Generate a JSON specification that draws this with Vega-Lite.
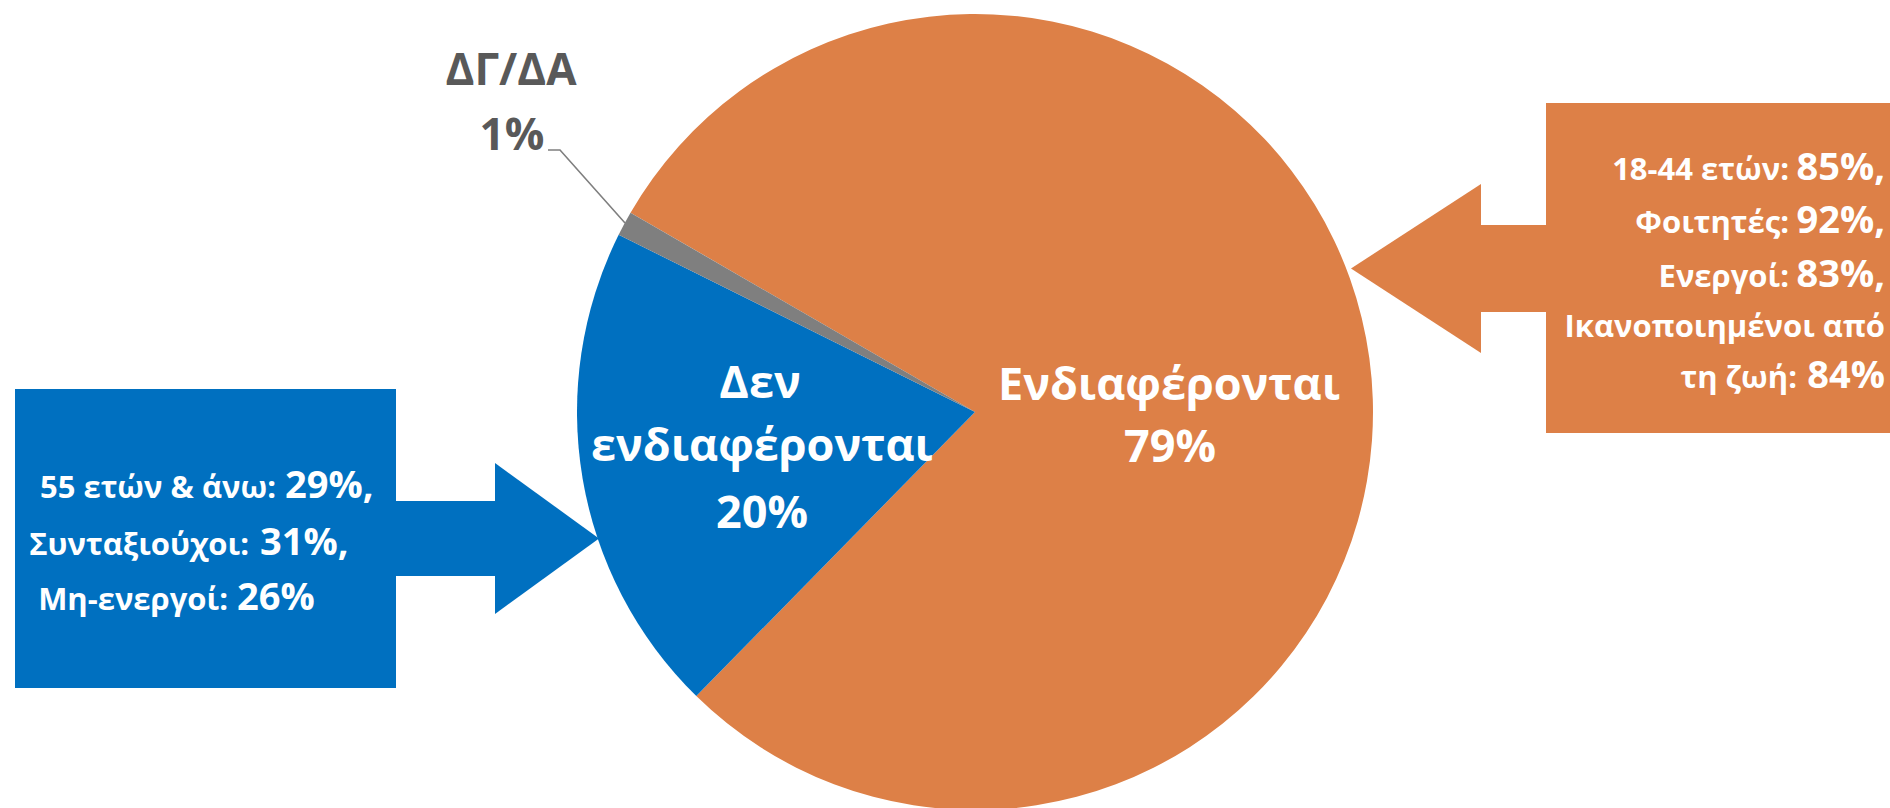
{
  "$schema": "https://vega.github.io/schema/vega-lite/v6.json",
  "width": 1830,
  "height": 792,
  "autosize": "none",
  "padding": {"left": 60, "top": 16, "right": 0, "bottom": 0},
  "background": "#ffffff",
  "config": {"view": {"stroke": null}, "axis": {"disable": true}},
  "layer": [
    {
      "data": {"values": [
        {"label": "Ενδιαφέρονται", "value": 79, "order": 1},
        {"label": "Δεν ενδιαφέρονται", "value": 20, "order": 2},
        {"label": "ΔΓ/ΔΑ", "value": 1, "order": 3}
      ]},
      "mark": {"type": "arc", "outerRadius": 398},
      "encoding": {
        "theta": {"field": "value", "type": "quantitative", "stack": true, "scale": {"range": [5.237, 11.52]}},
        "order": {"field": "order", "type": "quantitative"},
        "color": {"field": "label", "type": "nominal", "legend": null,
          "scale": {"domain": ["Ενδιαφέρονται", "Δεν ενδιαφέρονται", "ΔΓ/ΔΑ"], "range": ["#DD8047", "#0070C0", "#7F7F7F"]}}
      }
    },
    {
      "encoding": {
        "x": {"field": "x", "type": "quantitative", "scale": {"domain": [60, 1890], "nice": false, "zero": false}, "axis": null},
        "y": {"field": "y", "type": "quantitative", "scale": {"domain": [16, 808], "reverse": true, "nice": false, "zero": false}, "axis": null}
      },
      "layer": [
        {
          "data": {"values": [
            {"group": "Δεν ενδιαφέρονται", "part": "box", "x": 15, "x2": 396, "y": 389, "y2": 688},
            {"group": "Δεν ενδιαφέρονται", "part": "shaft", "x": 395, "x2": 496, "y": 501, "y2": 576},
            {"group": "Ενδιαφέρονται", "part": "box", "x": 1546, "x2": 1890, "y": 103, "y2": 433},
            {"group": "Ενδιαφέρονται", "part": "shaft", "x": 1480, "x2": 1547, "y": 225, "y2": 312}
          ]},
          "mark": {"type": "rect"},
          "encoding": {
            "x2": {"field": "x2"},
            "y2": {"field": "y2"},
            "color": {"field": "group", "type": "nominal", "legend": null}
          }
        },
        {
          "data": {"values": [
            {"group": "Δεν ενδιαφέρονται", "x": 495, "y": 463, "y2": 614},
            {"group": "Δεν ενδιαφέρονται", "x": 599, "y": 538.5, "y2": 538.5},
            {"group": "Ενδιαφέρονται", "x": 1351, "y": 268.5, "y2": 268.5},
            {"group": "Ενδιαφέρονται", "x": 1481, "y": 184, "y2": 353}
          ]},
          "mark": {"type": "area", "orient": "vertical"},
          "encoding": {
            "y2": {"field": "y2"},
            "color": {"field": "group", "type": "nominal", "legend": null}
          }
        },
        {
          "data": {"values": [
            {"x": 548, "y": 150, "o": 1},
            {"x": 560, "y": 150, "o": 2},
            {"x": 625, "y": 223, "o": 3}
          ]},
          "mark": {"type": "line", "color": "#7F7F7F", "strokeWidth": 1.6},
          "encoding": {"order": {"field": "o", "type": "quantitative"}}
        },
        {
          "data": {"values": [
            {"text": "55 ετών & άνω:", "x": 276, "y": 498},
            {"text": "Συνταξιούχοι:", "x": 249, "y": 555},
            {"text": "Μη-ενεργοί:", "x": 228, "y": 610}
          ]},
          "mark": {"type": "text", "align": "right", "baseline": "alphabetic", "font": "Open Sans", "fontWeight": "bold", "fontSize": 31, "color": "#ffffff"},
          "encoding": {"text": {"field": "text"}}
        },
        {
          "data": {"values": [
            {"text": "29%,", "x": 285, "y": 498},
            {"text": "31%,", "x": 260, "y": 555},
            {"text": "26%", "x": 237, "y": 610}
          ]},
          "mark": {"type": "text", "align": "left", "baseline": "alphabetic", "font": "Open Sans", "fontWeight": "bold", "fontSize": 38, "color": "#ffffff"},
          "encoding": {"text": {"field": "text"}}
        },
        {
          "data": {"values": [
            {"text": "18-44 ετών:", "x": 1789, "y": 180},
            {"text": "Φοιτητές:", "x": 1789, "y": 233},
            {"text": "Ενεργοί:", "x": 1789, "y": 287},
            {"text": "Ικανοποιημένοι από", "x": 1885, "y": 337},
            {"text": "τη ζωή:", "x": 1797, "y": 388}
          ]},
          "mark": {"type": "text", "align": "right", "baseline": "alphabetic", "font": "Open Sans", "fontWeight": "bold", "fontSize": 31, "color": "#ffffff"},
          "encoding": {"text": {"field": "text"}}
        },
        {
          "data": {"values": [
            {"text": "85%,", "x": 1885, "y": 180},
            {"text": "92%,", "x": 1885, "y": 233},
            {"text": "83%,", "x": 1885, "y": 287},
            {"text": "84%", "x": 1885, "y": 388}
          ]},
          "mark": {"type": "text", "align": "right", "baseline": "alphabetic", "font": "Open Sans", "fontWeight": "bold", "fontSize": 38, "color": "#ffffff"},
          "encoding": {"text": {"field": "text"}}
        },
        {
          "data": {"values": [
            {"text": "Ενδιαφέρονται", "x": 1169, "y": 400},
            {"text": "79%", "x": 1170, "y": 462},
            {"text": "Δεν", "x": 760, "y": 398},
            {"text": "ενδιαφέρονται", "x": 762, "y": 461},
            {"text": "20%", "x": 762, "y": 528}
          ]},
          "mark": {"type": "text", "align": "center", "baseline": "alphabetic", "font": "Open Sans", "fontWeight": "bold", "fontSize": 45, "color": "#ffffff"},
          "encoding": {"text": {"field": "text"}}
        },
        {
          "data": {"values": [
            {"text": "ΔΓ/ΔΑ", "x": 511, "y": 85},
            {"text": "1%", "x": 512, "y": 150}
          ]},
          "mark": {"type": "text", "align": "center", "baseline": "alphabetic", "font": "Open Sans", "fontWeight": "bold", "fontSize": 44, "color": "#595959"},
          "encoding": {"text": {"field": "text"}}
        }
      ]
    }
  ]
}
